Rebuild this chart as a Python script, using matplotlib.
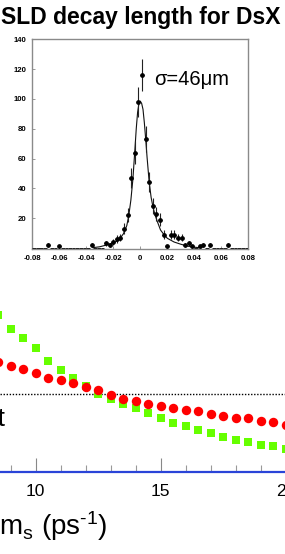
import numpy as np
import matplotlib
matplotlib.use("Agg")
import matplotlib.pyplot as plt
from matplotlib.ticker import MultipleLocator

plt.rcParams['font.family'] = ['Liberation Sans', 'DejaVu Sans']
plt.rcParams['mathtext.fontset'] = 'custom'
plt.rcParams['mathtext.rm'] = 'Liberation Sans'
plt.rcParams['mathtext.it'] = 'Liberation Sans:italic'

# --- lower chart: amplitude-style curves vs dm_s
dms = [8.5, 9.0, 9.5, 10.0, 10.5, 11.0, 11.5, 12.0, 12.5, 13.0, 13.5, 14.0,
       14.5, 15.0, 15.5, 16.0, 16.5, 17.0, 17.5, 18.0, 18.5, 19.0, 19.5, 20.0]
green_vals = [2.02, 1.84, 1.73, 1.59, 1.43, 1.31, 1.21, 1.11, 1.01, 0.94, 0.88, 0.82,
              0.76, 0.69, 0.63, 0.59, 0.54, 0.50, 0.45, 0.41, 0.38, 0.35, 0.33, 0.30]
red_vals = [1.42, 1.37, 1.32, 1.27, 1.21, 1.18, 1.14, 1.10, 1.05, 0.99, 0.94, 0.91,
            0.88, 0.85, 0.82, 0.80, 0.78, 0.75, 0.72, 0.70, 0.69, 0.66, 0.64, 0.61]
limit_level = 1.0

# --- inset: decay length residual histogram (60 bins from -0.08 to 0.08)
bin_edges_lo = -0.08
bin_edges_hi = 0.08
counts = [0, 0, 0, 0, 2, 0, 0, 1, 0, 0, 0, 0, 0, 0, 0, 0, 2, 0, 0, 0,
          3, 2, 4, 6, 7, 13, 22, 47, 64, 98, 116, 73, 44, 28, 23, 19, 9, 1, 9, 9,
          7, 7, 2, 3, 1, 0, 1, 2, 0, 2, 0, 0, 0, 0, 2, 0, 0, 0, 0, 0]
fit_x = [-0.035, -0.030, -0.025, -0.020, -0.0175, -0.015, -0.0125, -0.010, -0.0085,
         -0.007, -0.0055, -0.004, -0.003, -0.002, -0.001, 0.0, 0.001, 0.002, 0.003,
         0.004, 0.005, 0.0065, 0.008, 0.0095, 0.011, 0.0125, 0.015, 0.0175, 0.020,
         0.025, 0.030, 0.035, 0.040, 0.045]
fit_y = [0.2, 0.8, 2.0, 3.5, 4.5, 6.5, 9.5, 15, 22, 32, 46, 66, 80, 91, 97, 98.5, 97,
         93, 84, 73, 61, 45, 34, 27, 22, 18, 12, 9, 6.5, 4, 2.5, 1.2, 0.5, 0.1]

W, H = 285, 554
fig = plt.figure(figsize=(W / 100, H / 100), dpi=100)


def fx(px):
    return px / W


def fy(py):
    return 1 - py / H


# lower chart (axes runs past the right edge, like the cropped original)
x0, x1 = 8.57, 21.0
px_per_unit = 25.0
ax = fig.add_axes([0, fy(472), fx((x1 - x0) * px_per_unit), fy(300) - fy(472)])
ax.set_xlim(x0, x1)
ax.set_ylim(0, (472 - 300) / 77.7)
ax.plot(dms, green_vals, 's', color='#66ff00', markersize=6.4, markeredgewidth=0, zorder=3)
ax.plot(dms, red_vals, 'o', color='#ff0000', markersize=6.8, markeredgewidth=0, zorder=4)
ax.axhline(limit_level, color='black', lw=1.0, linestyle=(0, (1, 1.2)), zorder=2)
for s in ['top', 'left', 'right']:
    ax.spines[s].set_visible(False)
ax.spines['bottom'].set_color('#2a44d8')
ax.spines['bottom'].set_linewidth(1.6)
ax.set_yticks([])
ax.xaxis.set_major_locator(MultipleLocator(5))
ax.xaxis.set_minor_locator(MultipleLocator(1))
ax.tick_params(axis='x', which='major', direction='in', length=10, width=0.8,
               color='#888888', pad=9, labelsize=12.5)
ax.tick_params(axis='x', which='minor', direction='in', length=5, width=0.8,
               color='#999999')
ax.patch.set_alpha(0)

fig.text(fx(5), fy(426), 'limit', ha='right', va='baseline', fontsize=19)
fig.text(fx(108), fy(535), r'$\Delta$m$_\mathrm{s}$ (ps$^\mathrm{\text{-}1}$)',
         ha='right', va='baseline', fontsize=20)

# title
fig.text(fx(1), fy(24), 'SLD decay length for DsX', ha='left', va='baseline',
         fontsize=16.5, fontweight='bold')

# inset histogram
axi = fig.add_axes([fx(32.3), fy(249), fx(248.3) - fx(32.3), fy(39.3) - fy(249)])
axi.set_facecolor('white')
axi.set_xlim(bin_edges_lo, bin_edges_hi)
axi.set_ylim(-0.7, 140)
nb = len(counts)
width = (bin_edges_hi - bin_edges_lo) / nb
centers = bin_edges_lo + width * (np.arange(nb) + 0.5)
c = np.array(counts, dtype=float)
filled = c > 0
axi.errorbar(centers[filled], c[filled], yerr=np.sqrt(c[filled]), xerr=width / 2,
             fmt='o', color='black', ecolor='#222222', markersize=2.4,
             elinewidth=0.8, capsize=0, zorder=3)
axi.errorbar(centers[~filled], c[~filled], xerr=width / 2, fmt='none',
             ecolor='#222222', elinewidth=0.7, capsize=0, zorder=3)
axi.plot(fit_x, fit_y, color='#111111', lw=0.8, zorder=2)
for s in axi.spines.values():
    s.set_color('#8a8a8a')
    s.set_linewidth(1.0)
axi.set_xticks(np.arange(-0.08, 0.0801, 0.02))
axi.set_xticklabels(['-0.08', '-0.06', '-0.04', '-0.02', '0', '0.02', '0.04', '0.06', '0.08'])
axi.set_yticks(np.arange(20, 141, 20))
axi.tick_params(direction='in', length=2, width=0.6, color='#888888',
                labelsize=5.6, pad=4)
for lab in axi.get_xticklabels() + axi.get_yticklabels():
    lab.set_fontweight('bold')

fig.text(fx(154), fy(85), 'σ=46μm', ha='left', va='baseline', fontsize=14.5)

fig.savefig('out.png', dpi=100)
